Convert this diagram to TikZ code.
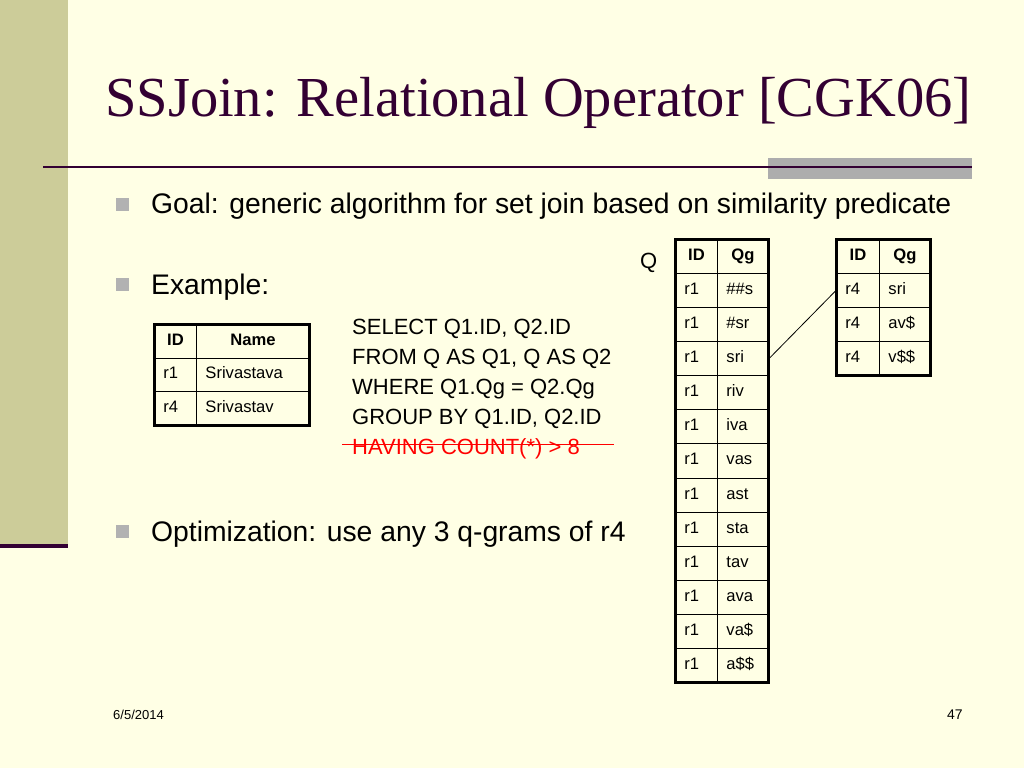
\documentclass[tikz,border=0pt]{standalone}
\usepackage{fontspec}
\setmainfont{Liberation Sans}
\newfontfamily\titlefont{Liberation Serif}
\definecolor{bg}{HTML}{FFFFE5}
\definecolor{bar}{HTML}{CCCC99}
\definecolor{plum}{HTML}{330033}
\definecolor{graybox}{HTML}{ADADAD}
\definecolor{bulletgray}{HTML}{B2B2B2}
\newcommand{\cellfont}{\fontsize{16.6}{18}\selectfont}
\tikzset{
  cell/.style={draw=black, line width=0.9pt, inner xsep=9pt, inner ysep=0pt,
    text height=11.5pt, text depth=3.5pt, anchor=north west, align=left, font=\cellfont},
  hcell/.style={cell, align=center, font=\cellfont\bfseries},
  frame/.style={draw=black, line width=3pt},
  bulletsq/.style={fill=bulletgray, minimum size=13pt, inner sep=0pt},
  bodytext/.style={anchor=base west, inner sep=0pt, font=\fontsize{28.3}{32}\selectfont},
  sqltext/.style={anchor=base west, inner sep=0pt, font=\fontsize{22}{26}\selectfont},
  smalltext/.style={anchor=base west, inner sep=0pt, font=\fontsize{13}{15}\selectfont},
}
\begin{document}
\begin{tikzpicture}[x=1pt,y=-1pt]
\useasboundingbox (0,0) rectangle (1024,768);
% background and slide decoration
\fill[bg] (0,0) rectangle (1024,768);
\fill[bar] (0,0) rectangle (68,545);
\fill[plum] (0,544) rectangle (68,548);
\fill[graybox] (768,158) rectangle (972,179);
\draw[plum, line width=2.5pt] (43,167) -- (972,167);
% title
\node[anchor=base west, inner sep=0pt, font=\titlefont\fontsize{56.5}{60}\selectfont, text=plum] (title) at (105,116) {SSJoin: Relational Operator [CGK06]};
% bullets
\node[bulletsq] (bu1) at (122,204) {};
\node[bodytext] (goal) at (151,213) {Goal: generic algorithm for set join based on similarity predicate};
\node[bulletsq] (bu2) at (122,284) {};
\node[bodytext] (ex) at (151,294) {Example:};
\node[bulletsq] (bu3) at (122,531) {};
\node[bodytext] (opt) at (151,541) {Optimization: use any 3 q-grams of r4};
% SQL
\node[sqltext] (sql1) at (352,334) {SELECT Q1.ID, Q2.ID};
\node[sqltext] (sql2) at (352,364) {FROM Q AS Q1, Q AS Q2};
\node[sqltext] (sql3) at (352,394) {WHERE Q1.Qg = Q2.Qg};
\node[sqltext] (sql4) at (352,424) {GROUP BY Q1.ID, Q2.ID};
\node[sqltext, text=red] (sql5) at (352,454) {HAVING COUNT(*) > 8};
\coordinate (strikeA) at (342,444);
\coordinate (strikeB) at (614,444);
\draw[red, line width=1pt] (strikeA) -- (strikeB);
% left table
\node[hcell, minimum height=33.67pt, text width=24pt] (la0) at (154,324) {ID};
\node[hcell, minimum height=33.67pt, text width=95pt] (lb0) at (196,324) {Name};
\foreach \i/\a/\b in {1/r1/Srivastava, 2/r4/Srivastav}{
  \node[cell, minimum height=33.67pt, text width=24pt] (la\i) at (154,324+\i*33.67) {\a};
  \node[cell, minimum height=33.67pt, text width=95pt] (lb\i) at (196,324+\i*33.67) {\b};
}
\draw[frame] (la0.north west) rectangle (lb2.south east);
% Q label and big table
\node[anchor=base west, inner sep=0pt, font=\fontsize{22}{26}\selectfont] (qlabel) at (640,268) {Q};
\node[hcell, minimum height=34.08pt, text width=24pt] (qa0) at (675,239) {ID};
\node[hcell, minimum height=34.08pt, text width=33pt] (qb0) at (717,239) {Qg};
\foreach \i/\q in {1/\#\#s, 2/\#sr, 3/sri, 4/riv, 5/iva, 6/vas, 7/ast, 8/sta, 9/tav, 10/ava, 11/va\$, 12/a\$\$}{
  \node[cell, minimum height=34.08pt, text width=24pt] (qa\i) at (675,239+\i*34.08) {r1};
  \node[cell, minimum height=34.08pt, text width=33pt] (qb\i) at (717,239+\i*34.08) {\q};
}
\draw[frame] (qa0.north west) rectangle (qb12.south east);
% small table
\node[hcell, minimum height=34pt, text width=25pt] (sa0) at (836,239) {ID};
\node[hcell, minimum height=34pt, text width=33pt] (sb0) at (879,239) {Qg};
\foreach \i/\q in {1/sri, 2/av\$, 3/v\$\$}{
  \node[cell, minimum height=34pt, text width=25pt] (sa\i) at (836,239+\i*34) {r4};
  \node[cell, minimum height=34pt, text width=33pt] (sb\i) at (879,239+\i*34) {\q};
}
\draw[frame] (sa0.north west) rectangle (sb3.south east);
% connector
\draw[black, line width=0.8pt] (qb3.east) -- (sa1.west);
% footer
\node[smalltext] (date) at (113,719) {6/5/2014};
\node[smalltext, font=\fontsize{14}{16}\selectfont] (page) at (947,719) {47};
\end{tikzpicture}
\end{document}
